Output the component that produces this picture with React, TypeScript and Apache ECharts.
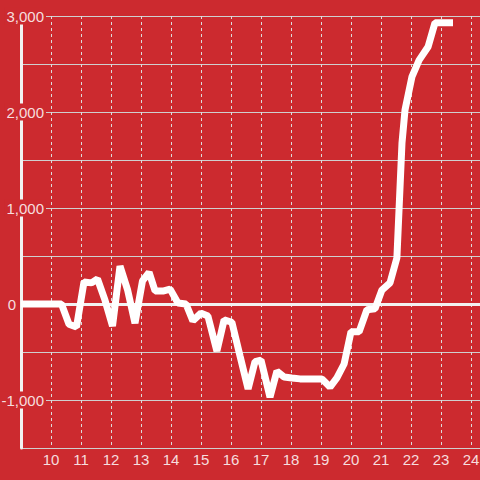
import React, { useEffect, useRef } from "react";
import * as echarts from "echarts";

const years = [9.0, 10.35, 10.6, 10.85, 11.1, 11.35, 11.55, 11.8, 12.05, 12.3, 12.55, 12.8, 13.05, 13.27, 13.47, 13.73, 13.97, 14.23, 14.5, 14.73, 15.0, 15.23, 15.53, 15.77, 16.03, 16.3, 16.57, 16.8, 17.0, 17.3, 17.53, 17.77, 18.03, 18.3, 18.53, 18.8, 19.03, 19.3, 19.53, 19.77, 20.0, 20.27, 20.53, 20.8, 21.03, 21.3, 21.53, 21.7, 21.8, 22.03, 22.27, 22.57, 22.8, 23.4];
const values = [0, 0, -210, -240, 230, 220, 260, 40, -230, 395, 150, -200, 240, 330, 135, 135, 155, 10, 0, -175, -95, -125, -490, -165, -190, -540, -885, -600, -585, -970, -700, -760, -770, -780, -780, -780, -780, -865, -770, -625, -290, -290, -60, -50, 145, 220, 480, 1680, 2020, 2365, 2540, 2680, 2930, 2930];

const BG = "#cc2a2f";
const LABEL = "rgba(255,255,255,0.85)";
const FONT = "'Liberation Sans', Arial, sans-serif";

export default function App() {
  const ref = useRef<HTMLDivElement>(null);
  useEffect(() => {
    if (!ref.current) return;
    const chart = echarts.init(ref.current, undefined, { renderer: "svg" });
    const data = years.map((y, i) => [y, values[i]]);
    chart.setOption({
      animation: false,
      backgroundColor: BG,
      grid: { left: 21, right: 0, top: 16, bottom: 32, containLabel: false, outerBoundsMode: "none" },
      xAxis: {
        type: "value",
        min: 9,
        max: 24.3,
        interval: 1,
        axisLine: { show: false },
        axisTick: { show: false },
        axisLabel: {
          color: LABEL,
          fontSize: 15,
          fontFamily: FONT,
          margin: 4,
          formatter: (v: number) => (Number.isInteger(v) && v >= 10 ? String(v) : ""),
        },
        splitLine: {
          show: true,
          lineStyle: { color: "#dcdcdc", width: 1, type: [3, 3] },
        },
      },
      yAxis: {
        type: "value",
        min: -1500,
        max: 3000,
        interval: 500,
        axisLine: { show: true, lineStyle: { color: "#f2f2f2", width: 3 } },
        axisTick: { show: false },
        axisLabel: {
          align: "right",
          margin: -25,
          fontSize: 15,
          fontFamily: FONT,
          color: LABEL,
          formatter: (v: number) => {
            if (v % 1000 !== 0) return "";
            if (v === 0) return "{z|0}";
            return "{b|" + v.toLocaleString("en-US") + "}";
          },
          rich: {
            b: { color: LABEL, fontSize: 15, fontFamily: FONT, backgroundColor: BG, padding: [1, 2, 1, 2] },
            z: { color: LABEL, fontSize: 15, fontFamily: FONT, padding: [0, 30, 0, 0] },
          },
        },
        splitLine: { show: true, lineStyle: { color: "#cfcfcf", width: 1 } },
      },
      series: [
        {
          type: "line",
          data,
          showSymbol: false,
          symbol: "none",
          lineStyle: { color: "#ffffff", width: 7, cap: "butt" },
          z: 5,
          markLine: {
            silent: true,
            symbol: "none",
            label: { show: false },
            lineStyle: { color: "#f2f2f2", width: 3, type: "solid" },
            data: [{ yAxis: 0 }],
            z: 3,
          },
        },
      ],
    });
    return () => chart.dispose();
  }, []);
  return <div ref={ref} style={{ position: "fixed", left: 0, top: 0, width: 480, height: 480 }} />;
}
